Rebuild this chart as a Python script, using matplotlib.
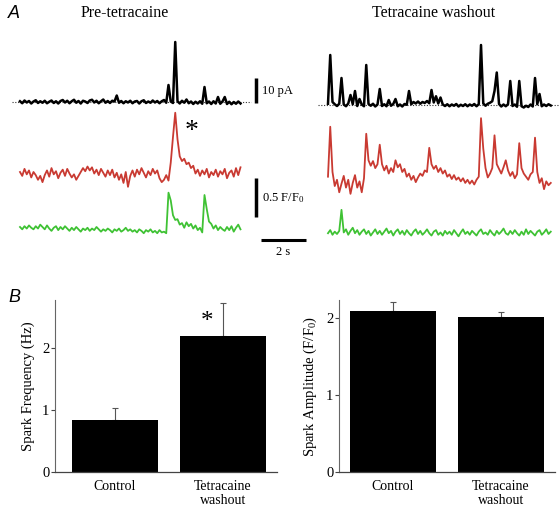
import numpy as np
import matplotlib
matplotlib.use("Agg")
import matplotlib.pyplot as plt

plt.rcParams['font.family'] = ['Liberation Serif', 'DejaVu Serif']
plt.rcParams['mathtext.fontset'] = 'custom'
plt.rcParams['mathtext.rm'] = 'Liberation Serif'
plt.rcParams['mathtext.it'] = 'Liberation Serif:italic'

# ---------------- data ----------------
DT = 0.1

pre_current = [0.3, -0.5, 0.6, -0.2, 0.4, -0.6, 0.2, 0.7, -0.4, 0.3,
               -0.3, 0.5, -0.5, 0.1, 0.6, -0.4, 0.3, -0.6, 0.4, 0.8,
               -0.2, 0.5, -0.5, 0.3, 0.9, -0.3, 0.4, -0.6, 0.5, 0.2,
               -0.4, 0.6, 0.9, -0.2, 0.5, -0.5, 0.3, 1.0, -0.3, 0.4,
               -0.4, 0.5, 0.2, 2.6, -0.3, 0.4, -0.5, 0.3, -0.2, 0.5,
               -0.5, 0.2, 0.4, -0.6, 0.3, 0.7, -0.4, 0.2, -0.3, 0.6,
               -0.2, 0.4, -0.5, 0.3, 0.8, -0.3, 6.8, 0.2, -0.4, 24.0,
               0.3, -0.6, 0.5, -0.3, 1.0, -0.5, 0.2, -0.8, 0.1, -0.6,
               0.3, -0.7, 6.0, -0.5, 0.2, -0.8, 0.3, -0.6, 2.0, -0.7,
               0.2, 2.0, -0.8, 0.1, -0.9, 0.0, -0.7, 0.2, -0.6]

pre_red = [1.0, 0.95, 1.04, 0.97, 1.02, 0.93, 1.0, 0.96, 0.9, 0.95,
           0.87, 0.96, 1.02, 0.94, 1.05, 0.97, 1.01, 0.92, 0.99, 1.03,
           0.95, 1.04, 0.98, 0.93, 0.97, 0.9, 0.95, 1.0, 1.05, 1.01,
           1.07, 1.02, 1.06, 0.98, 1.03, 0.96, 1.04, 0.99, 0.94, 1.02,
           0.96, 1.03, 0.93, 0.99, 0.9, 0.97, 0.86, 1.0, 0.81, 0.95,
           1.02, 0.94, 1.03, 0.97, 1.05, 0.99, 0.93, 1.01, 0.96, 1.04,
           0.98, 1.02, 0.92, 0.87, 0.9, 0.96, 0.89, 1.12, 1.45, 1.76,
           1.42, 1.2, 1.14, 1.17, 1.1, 1.12, 1.05, 1.08, 0.98, 1.03,
           0.95, 1.02, 0.97, 1.04, 0.93, 1.0, 0.96, 1.03, 0.94, 1.01,
           0.97, 1.04, 0.92, 0.99, 1.02, 0.94, 1.05, 0.96, 1.06]

pre_green = [1.0, 0.97, 1.01, 0.98, 1.02, 0.99, 0.97, 1.01, 0.98, 1.03,
             1.0, 0.97, 1.02, 0.98, 0.95, 0.99, 1.01, 0.96, 1.0, 0.97,
             1.01, 0.98, 0.95, 0.99, 0.96, 1.0, 0.97, 0.94, 0.98, 0.96,
             0.99, 0.95, 0.98, 0.96, 1.0, 0.97, 0.94, 0.97, 0.95, 0.98,
             0.96, 0.93, 0.97, 0.95, 0.98, 0.94, 0.96, 0.99, 0.95, 0.97,
             0.94, 0.96, 0.93, 0.97, 0.95, 0.92, 0.96, 0.94, 0.97, 0.93,
             0.95, 0.92, 0.96, 0.93, 0.94, 0.92, 1.44, 1.34, 1.15, 1.09,
             1.1, 1.03, 1.05, 0.99, 1.06, 1.01, 1.04, 0.98, 1.02, 0.96,
             0.99, 0.93, 1.41, 1.23, 1.07, 1.04, 0.98, 1.02, 0.96, 1.0,
             0.97, 0.95, 1.0, 0.96, 1.01, 0.94, 0.99, 1.03, 0.97]

wash_current = [0.5, 20.0, 1.2, 0.3, -0.4, 0.5, 10.8, 0.2, -0.5, 0.6,
                4.0, 0.3, 5.6, -0.4, 2.4, 0.2, -0.5, 16.0, 0.4, -0.3,
                0.5, -0.6, 0.2, 6.4, -0.4, 0.3, -0.5, 2.0, -0.3, 0.4,
                2.4, -0.5, 0.2, -0.6, 0.4, 0.1, 5.6, 0.3, 1.2, 0.6,
                1.4, 0.5, 1.2, 0.8, 1.6, 0.7, 6.0, 1.0, 3.5, 0.6,
                3.0, 0.2, -0.4, 0.3, -0.5, 0.2, -0.3, 0.4, -0.6, 0.1,
                -0.4, 0.3, -0.5, 0.2, -0.3, 0.4, -0.5, 0.3, 24.0, 0.6,
                -0.3, 0.5, 0.9, 1.5, 5.6, 13.0, 0.4, -0.6, 0.2, -0.5,
                0.3, 9.6, -0.4, 0.2, -0.7, 9.6, -0.5, -1.0, -0.3, -0.8,
                0.2, -0.6, 10.8, 0.3, 4.4, -0.5, 0.2, -0.4, 0.3, -0.2]

wash_red = [0.94, 1.58, 1.0, 0.82, 0.9, 0.74, 0.85, 0.95, 0.8, 0.9,
            0.72, 0.86, 0.96, 0.8, 0.88, 0.74, 0.92, 1.49, 1.15, 1.08,
            1.14, 1.05, 1.1, 1.35, 1.1, 1.02, 1.08, 0.98, 1.05, 1.0,
            1.15, 1.06, 1.1, 1.0, 1.04, 0.94, 0.98, 0.9, 0.95, 0.87,
            0.93, 0.98, 0.95, 1.02, 1.0, 1.31, 1.1, 1.04, 1.08, 1.0,
            1.05, 0.98, 1.02, 0.94, 0.97, 0.91, 0.96, 0.9, 0.93, 0.88,
            0.92, 0.86, 0.9, 0.85, 0.89, 0.84, 0.9, 0.94, 1.69, 1.3,
            1.05, 0.93, 0.98, 1.05, 1.47, 1.1, 1.04, 0.98, 1.06, 1.15,
            1.02, 0.95, 1.0, 0.92, 0.97, 1.37, 1.05, 0.98, 0.94, 0.9,
            0.97, 1.0, 1.44, 1.0, 0.86, 0.92, 0.78, 0.88, 0.83, 0.86]

wash_green = [0.92, 0.96, 0.9, 0.94, 0.91, 0.95, 1.22, 0.93, 0.97, 0.9,
              0.95, 0.99, 0.92, 0.96, 0.9, 0.94, 0.97, 0.91, 0.95, 0.89,
              0.93, 0.97, 0.91, 0.95, 0.9, 0.94, 0.98, 0.92, 0.95, 0.89,
              0.94, 0.97, 0.91, 0.95, 0.9, 0.96, 0.92, 0.89, 0.94, 0.97,
              0.91, 0.95, 0.9, 0.93, 0.97, 0.92, 0.89, 0.94, 0.96, 0.9,
              0.93, 0.89, 0.95, 0.91, 0.94, 0.9, 0.96, 0.92, 0.88, 0.93,
              0.97, 0.91, 0.94, 0.9, 0.95, 0.92, 0.89, 0.94, 0.97, 0.91,
              0.93, 0.9, 0.96, 0.92, 0.89, 0.95, 0.91, 0.94, 0.98, 0.92,
              0.9, 0.95, 0.91, 0.96, 0.92, 0.89, 0.94, 0.9, 0.97, 0.91,
              0.95, 0.92, 0.89, 0.94, 0.96, 0.9, 0.93, 0.97, 0.91, 0.94]

conditions = ["Control", "Tetracaine\nwashout"]
freq_mean = [0.83, 2.19]
freq_sem = [0.20, 0.53]
amp_mean = [2.09, 2.01]
amp_sem = [0.12, 0.07]

# ---------------- figure ----------------
W, H = 560, 512
fig = plt.figure(figsize=(W / 100, H / 100), dpi=100)

def ax_px(x0, y0, x1, y1):
    a = fig.add_axes([x0 / W, 1 - y1 / H, (x1 - x0) / W, (y1 - y0) / H])
    a.patch.set_alpha(0)
    a.axis('off')
    return a

RED = '#c93a32'
GREEN = '#3fc234'

# left column
xl = (-0.444, 12.889)
axb = ax_px(10, 30, 310, 112)
axb.set_xlim(*xl); axb.set_ylim(-4.0, 28.8)
t = np.arange(len(pre_current)) * DT
axb.plot([-0.36, t[-1] + 0.45], [0, 0], ls=(0, (1, 1.5)), color='#333333', lw=0.8)
axb.plot(t, pre_current, color='black', lw=1.8)
axb.plot([10.49, 10.49], [-0.4, 9.6], color='black', lw=2.5, solid_capstyle='butt')
axb.text(10.76, 4.4, "10 pA", fontsize=9, va='center', ha='left')

axr = ax_px(10, 100, 310, 200)
axr.set_xlim(*xl); axr.set_ylim(0.641, 1.923)
axr.plot(np.arange(len(pre_red)) * DT, pre_red, color=RED, lw=1.3)
axr.text(7.64, 1.52, "*", fontsize=20, ha='center', va='center')

axg = ax_px(10, 150, 310, 262)
axg.set_xlim(*xl); axg.set_ylim(0.551, 1.987)
axg.plot(np.arange(len(pre_green)) * DT, pre_green, color=GREEN, lw=1.3)
axg.plot([10.49, 10.49], [1.13, 1.63], color='black', lw=2.5, solid_capstyle='butt')
axg.text(10.76, 1.37, "0.5 F/F$_0$", fontsize=9, va='center', ha='left')
axg.plot([10.71, 12.71], [0.833, 0.833], color='black', lw=2.2, solid_capstyle='butt')
axg.text(11.71, 0.68, "2 s", fontsize=9, va='center', ha='center')

# right column
xr = (-0.444, 10.31)
axb2 = ax_px(318, 30, 560, 112)
axb2.set_xlim(*xr); axb2.set_ylim(-2.8, 30.0)
t2 = np.arange(len(wash_current)) * DT
axb2.plot([-0.44, t2[-1] + 0.4], [0, 0], ls=(0, (1, 1.5)), color='#333333', lw=0.8)
axb2.plot(t2, wash_current, color='black', lw=1.8)

axr2 = ax_px(318, 100, 560, 200)
axr2.set_xlim(*xr); axr2.set_ylim(0.641, 1.923)
axr2.plot(np.arange(len(wash_red)) * DT, wash_red, color=RED, lw=1.3)

axg2 = ax_px(318, 150, 560, 262)
axg2.set_xlim(*xr); axg2.set_ylim(0.551, 1.987)
axg2.plot(np.arange(len(wash_green)) * DT, wash_green, color=GREEN, lw=1.3)

# panel titles / letters
fig.text(125 / W, 1 - 13 / H, "Pre-tetracaine", fontsize=11.5, ha='center', va='center')
fig.text(434 / W, 1 - 13 / H, "Tetracaine washout", fontsize=11.5, ha='center', va='center')
fig.text(8 / W, 1 - 13 / H, "A", fontsize=13, style='italic', family='Liberation Sans',
         ha='left', va='center')
fig.text(8 / W, 1 - 297 / H, "B", fontsize=13, style='italic', family='Liberation Sans',
         ha='left', va='center')

# ---------------- panel B ----------------
def bar_panel(x0, x1, ytop_px, y0_px, ymax, xlo, xhi, means, sems, ylabel):
    a = fig.add_axes([x0 / W, 1 - y0_px / H, (x1 - x0) / W, (y0_px - ytop_px) / H])
    pos = np.arange(len(means))
    a.bar(pos, means, width=0.8, color='black', zorder=2)
    a.errorbar(pos, means, yerr=[np.zeros(len(sems)), sems], fmt='none',
               ecolor='#555555', elinewidth=0.8, capsize=2, capthick=0.8, zorder=1)
    a.set_xlim(xlo, xhi)
    a.set_ylim(0, ymax)
    a.set_yticks([0, 1, 2])
    a.set_xticks(pos)
    a.set_xticklabels(conditions, fontsize=10, linespacing=1.1)
    a.tick_params(axis='x', length=0, pad=6)
    a.tick_params(axis='y', length=3, width=0.8, labelsize=10.5, pad=1, color='#444444')
    for s in ('top', 'right'):
        a.spines[s].set_visible(False)
    a.spines['left'].set_color('#666666')
    a.spines['left'].set_linewidth(0.8)
    a.spines['bottom'].set_color('#444444')
    a.spines['bottom'].set_linewidth(0.9)
    a.set_ylabel(ylabel, fontsize=10.5, labelpad=5)
    a.patch.set_alpha(0)
    return a

axf = bar_panel(55, 277, 300, 472, 2.77, -0.556, 1.5, freq_mean, freq_sem,
                "Spark Frequency (Hz)")
axf.text(0.85, 2.42, "*", fontsize=18, ha='center', va='center')

axa = bar_panel(339, 555, 300, 472, 2.23, -0.5, 1.5, amp_mean, amp_sem,
                "Spark Amplitude (F/F$_0$)")

fig.savefig("out.png", dpi=100)
